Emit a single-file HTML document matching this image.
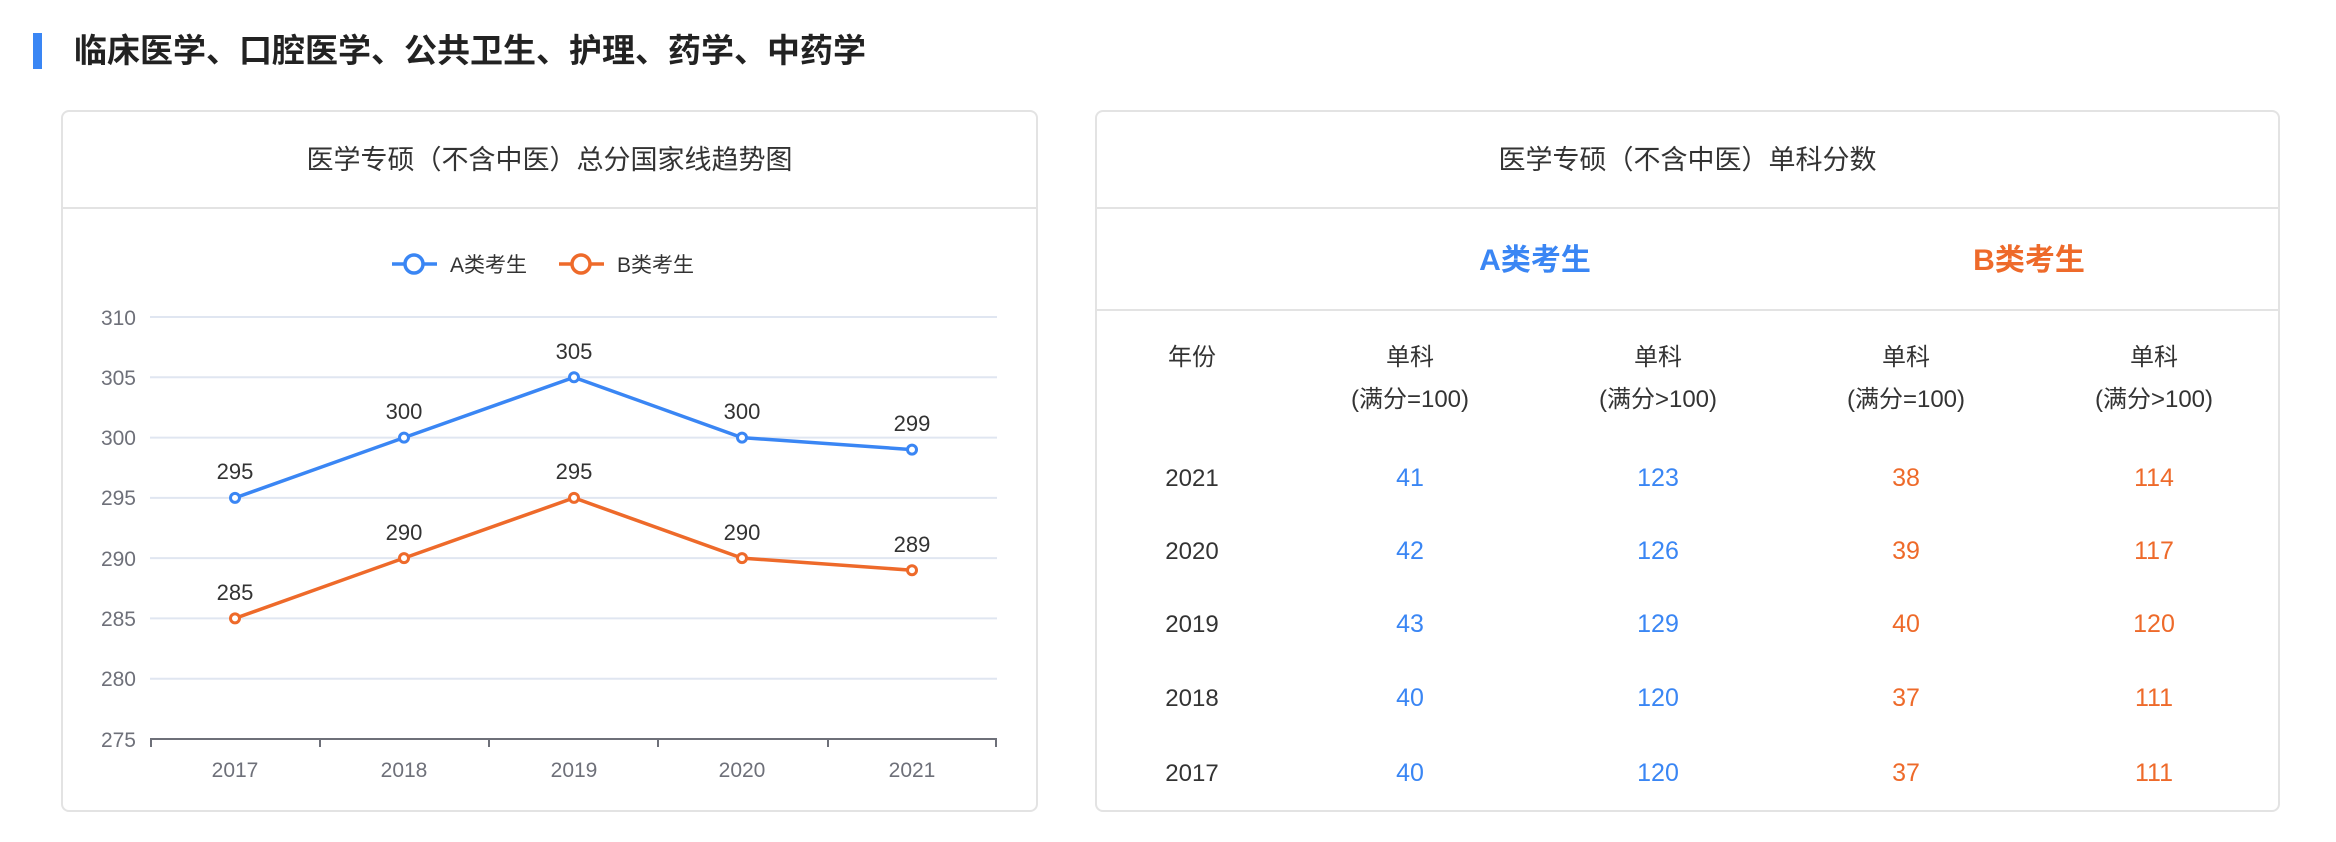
<!DOCTYPE html>
<html><head><meta charset="utf-8"><style>
html,body{margin:0;padding:0;background:#fff;width:2336px;height:842px;overflow:hidden;font-family:"Liberation Sans","Noto Sans CJK SC",sans-serif;}
.abs{position:absolute;}
.card{position:absolute;border:2px solid #e3e3e3;border-radius:8px;box-sizing:border-box;background:#fff;}
</style></head><body>
<div class="abs" style="left:33px;top:33px;width:9px;height:36px;background:#3a86f4"></div>
<div class="abs" style="left:74px;top:30px;font-size:33px;font-weight:bold;color:#222;line-height:42px">临床医学、口腔医学、公共卫生、护理、药学、中药学</div>

<div class="card" style="left:61px;top:110px;width:977px;height:702px"></div>
<div class="abs" style="left:63px;top:207px;width:973px;height:2px;background:#e3e3e3"></div>
<div class="abs" style="left:61px;top:142px;width:977px;text-align:center;font-size:27px;color:#333;line-height:36px">医学专硕（不含中医）总分国家线趋势图</div>

<svg class="abs" style="left:0;top:0" width="1100" height="842" font-family="Liberation Sans, Noto Sans CJK SC, sans-serif">
<g stroke="#e0e6f1" stroke-width="2">
<line x1="150" x2="997" y1="317" y2="317"/><line x1="150" x2="997" y1="377.3" y2="377.3"/><line x1="150" x2="997" y1="437.6" y2="437.6"/><line x1="150" x2="997" y1="497.9" y2="497.9"/><line x1="150" x2="997" y1="558.1" y2="558.1"/><line x1="150" x2="997" y1="618.4" y2="618.4"/><line x1="150" x2="997" y1="678.7" y2="678.7"/>
</g>
<g stroke="#6e7079" stroke-width="2"><line x1="150" x2="997" y1="739" y2="739"/>
<line x1="151" x2="151" y1="739" y2="747"/><line x1="320" x2="320" y1="739" y2="747"/><line x1="489" x2="489" y1="739" y2="747"/><line x1="658" x2="658" y1="739" y2="747"/><line x1="828" x2="828" y1="739" y2="747"/><line x1="996" x2="996" y1="739" y2="747"/></g>
<g fill="#6e7079" font-size="21" text-anchor="end">
<text x="136" y="325">310</text><text x="136" y="385">305</text><text x="136" y="445">300</text><text x="136" y="505">295</text><text x="136" y="566">290</text><text x="136" y="626">285</text><text x="136" y="686">280</text><text x="136" y="747">275</text></g>
<g fill="#6e7079" font-size="21" text-anchor="middle">
<text x="235" y="777">2017</text><text x="404" y="777">2018</text><text x="574" y="777">2019</text><text x="742" y="777">2020</text><text x="912" y="777">2021</text></g>
<polyline fill="none" stroke="#3a86f4" stroke-width="3.5" points="235,497.9 404,437.6 574,377.3 742,437.6 912,449.6"/>
<polyline fill="none" stroke="#ee6a2a" stroke-width="3.5" points="235,618.4 404,558.1 574,497.9 742,558.1 912,570.2"/>
<g fill="#fff" stroke="#3a86f4" stroke-width="3"><circle cx="235" cy="497.9" r="4.5"/><circle cx="404" cy="437.6" r="4.5"/><circle cx="574" cy="377.3" r="4.5"/><circle cx="742" cy="437.6" r="4.5"/><circle cx="912" cy="449.6" r="4.5"/></g>
<g fill="#fff" stroke="#ee6a2a" stroke-width="3"><circle cx="235" cy="618.4" r="4.5"/><circle cx="404" cy="558.1" r="4.5"/><circle cx="574" cy="497.9" r="4.5"/><circle cx="742" cy="558.1" r="4.5"/><circle cx="912" cy="570.2" r="4.5"/></g>
<g fill="#333" font-size="22" text-anchor="middle">
<text x="235" y="479">295</text><text x="404" y="419">300</text><text x="574" y="359">305</text><text x="742" y="419">300</text><text x="912" y="431">299</text>
<text x="235" y="600">285</text><text x="404" y="540">290</text><text x="574" y="479">295</text><text x="742" y="540">290</text><text x="912" y="552">289</text></g>
<line x1="392" x2="437" y1="264" y2="264" stroke="#3a86f4" stroke-width="3.5"/><circle cx="414" cy="264" r="9" fill="#fff" stroke="#3a86f4" stroke-width="3.5"/>
<text x="450" y="272" font-size="21" fill="#333">A类考生</text>
<line x1="559" x2="604" y1="264" y2="264" stroke="#ee6a2a" stroke-width="3.5"/><circle cx="581" cy="264" r="9" fill="#fff" stroke="#ee6a2a" stroke-width="3.5"/>
<text x="617" y="272" font-size="21" fill="#333">B类考生</text>
</svg>

<div class="card" style="left:1095px;top:110px;width:1185px;height:702px"></div>
<div class="abs" style="left:1097px;top:207px;width:1181px;height:2px;background:#e3e3e3"></div>
<div class="abs" style="left:1097px;top:309px;width:1181px;height:2px;background:#e3e3e3"></div>
<div class="abs" style="left:1095px;top:142px;width:1185px;text-align:center;font-size:27px;color:#333;line-height:36px">医学专硕（不含中医）单科分数</div>
<svg class="abs" style="left:1090px;top:0" width="1246" height="842" font-family="Liberation Sans, Noto Sans CJK SC, sans-serif" text-anchor="middle">
<text x="445" y="270" font-size="30" font-weight="bold" fill="#3a86f4">A类考生</text>
<text x="939" y="270" font-size="30" font-weight="bold" fill="#ee6a2a">B类考生</text>
<g font-size="24" fill="#333">
<text x="102" y="365">年份</text>
<text x="320" y="365">单科</text><text x="320" y="407">(满分=100)</text>
<text x="568" y="365">单科</text><text x="568" y="407">(满分&gt;100)</text>
<text x="816" y="365">单科</text><text x="816" y="407">(满分=100)</text>
<text x="1064" y="365">单科</text><text x="1064" y="407">(满分&gt;100)</text>
<text x="102" y="486">2021</text><text x="102" y="559">2020</text><text x="102" y="632">2019</text><text x="102" y="706">2018</text><text x="102" y="781">2017</text>
</g>
<g font-size="25" fill="#3a86f4">
<text x="320" y="486">41</text><text x="320" y="559">42</text><text x="320" y="632">43</text><text x="320" y="706">40</text><text x="320" y="781">40</text>
<text x="568" y="486">123</text><text x="568" y="559">126</text><text x="568" y="632">129</text><text x="568" y="706">120</text><text x="568" y="781">120</text>
</g>
<g font-size="25" fill="#ee6a2a">
<text x="816" y="486">38</text><text x="816" y="559">39</text><text x="816" y="632">40</text><text x="816" y="706">37</text><text x="816" y="781">37</text>
<text x="1064" y="486">114</text><text x="1064" y="559">117</text><text x="1064" y="632">120</text><text x="1064" y="706">111</text><text x="1064" y="781">111</text>
</g>
</svg>
</body></html>
